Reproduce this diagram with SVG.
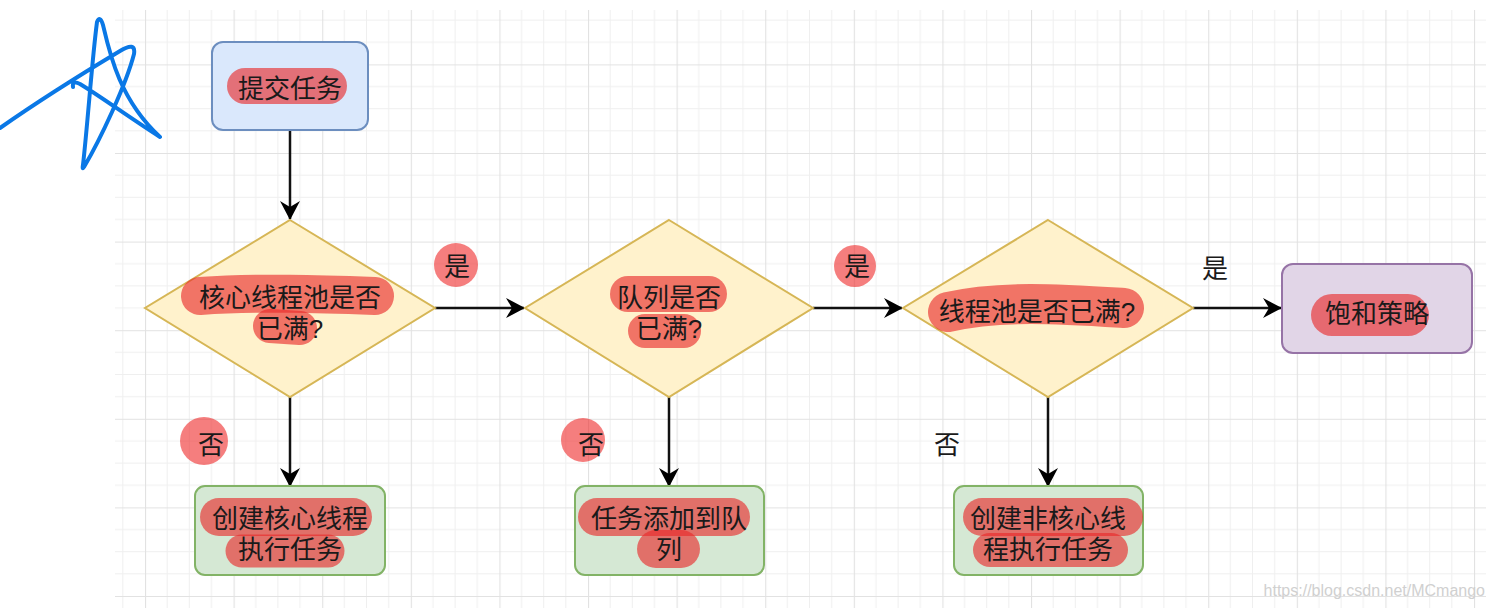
<svg xmlns="http://www.w3.org/2000/svg" width="1486" height="608" viewBox="0 0 1486 608">
<defs>
<pattern id="grid" patternUnits="userSpaceOnUse" x="145" y="153" width="88.6" height="88.6">
<path d="M22.15,0V88.6M44.3,0V88.6M66.45,0V88.6M0,22.15H88.6M0,44.3H88.6M0,66.45H88.6" stroke="#efefef" stroke-width="1" fill="none"/>
<path d="M0.5,0V88.6M0,0.5H88.6" stroke="#e2e2e2" stroke-width="1.2" fill="none"/>
</pattern>
<marker id="arr" viewBox="0 0 19 20" refX="18" refY="10" markerWidth="19" markerHeight="20" markerUnits="userSpaceOnUse" orient="auto">
<path d="M0,0 L19,10 L0,20 L6,10 Z" fill="#000"/>
</marker>
<style>
.t{font-family:"Liberation Sans","Noto Sans CJK SC",sans-serif;font-size:26px;fill:#1a1a1a;text-anchor:middle;dominant-baseline:central}
.hl{stroke:rgba(232,38,38,0.62);stroke-linecap:round;fill:none}
.dot{fill:rgba(238,40,40,0.6)}
.dia{fill:#fff2cc;stroke:#d6b656;stroke-width:2}
.gr{fill:#d5e8d4;stroke:#82b366;stroke-width:2}
.cn{stroke:#111;stroke-width:2.5;fill:none;marker-end:url(#arr)}
</style>
</defs>
<rect width="1486" height="608" fill="#fff"/>
<rect x="115" y="10" width="1371" height="598" fill="url(#grid)"/>

<path d="M0,128 C40,100 85,72 120,51 Q136,41 134,54 C126,85 100,140 84,167 Q82,170 83,165 C88,120 92,60 97,22 Q100,15 103,25 C110,55 120,100 160,137 C130,118 100,96 80,84 Q72,80 73,87" stroke="#0a78e6" stroke-width="4" fill="none" stroke-linecap="round" stroke-linejoin="round"/>

<g id="connectors">
<line class="cn" x1="290" y1="130" x2="290" y2="219"/>
<line class="cn" x1="435" y1="308" x2="524" y2="308"/>
<line class="cn" x1="813" y1="308" x2="902" y2="308"/>
<line class="cn" x1="1193" y1="308" x2="1281" y2="308"/>
<line class="cn" x1="290" y1="397" x2="290" y2="486"/>
<line class="cn" x1="669" y1="397" x2="669" y2="486"/>
<line class="cn" x1="1048" y1="397" x2="1048" y2="486"/>
<circle class="dot" cx="456" cy="265" r="22"/>
<text class="t" x="457" y="267">是</text>
<circle class="dot" cx="855" cy="266" r="21"/>
<text class="t" x="857" y="267">是</text>
<text class="t" x="1215" y="269">是</text>
<circle class="dot" cx="204" cy="441" r="24"/>
<text class="t" x="211" y="445">否</text>
<circle class="dot" cx="583" cy="440" r="22"/>
<text class="t" x="591" y="445">否</text>
<text class="t" x="947" y="445">否</text>
</g>

<g id="n-submit">
<rect x="212" y="42" width="156" height="88" rx="11" fill="#dae8fc" stroke="#6c8ebf" stroke-width="2"/>
<line class="hl" x1="245" y1="86" x2="329" y2="86" stroke-width="36"/>
<text class="t" x="290" y="89">提交任务</text>
</g>

<g id="n-core">
<polygon class="dia" points="290,220 435,308 290,397 145,308"/>
<path class="hl" d="M200,296 C260,292 320,294 375,296" stroke-width="38"/>
<path class="hl" d="M270,326 L300,328" stroke-width="34"/>
<text class="t" x="290" y="298">核心线程池是否</text>
<text class="t" x="290" y="329">已满?</text>
</g>

<g id="n-queue">
<polygon class="dia" points="669,220 813,308 669,397 525,308"/>
<path class="hl" d="M628,294 L709,294" stroke-width="36"/>
<path class="hl" d="M645,331 L684,331" stroke-width="34"/>
<text class="t" x="669" y="298">队列是否</text>
<text class="t" x="669" y="329">已满?</text>
</g>

<g id="n-pool">
<polygon class="dia" points="1048,220 1193,308 1048,397 903,308"/>
<path class="hl" d="M948,312 C1000,300 1060,304 1124,308" stroke-width="40"/>
<text class="t" x="1037" y="312">线程池是否已满?</text>
</g>

<g id="n-reject">
<rect x="1282" y="264" width="190" height="89" rx="11" fill="#e1d5e7" stroke="#9673a6" stroke-width="2"/>
<line class="hl" x1="1332" y1="315" x2="1408" y2="315" stroke-width="42"/>
<text class="t" x="1377" y="314">饱和策略</text>
</g>

<g id="n-create-core">
<rect x="195" y="486" width="190" height="89" rx="10" class="gr"/>
<line class="hl" x1="219" y1="517" x2="353" y2="517" stroke-width="38"/>
<line class="hl" x1="242" y1="551" x2="328" y2="551" stroke-width="33"/>
<text class="t" x="290" y="519">创建核心线程</text>
<text class="t" x="290" y="550">执行任务</text>
</g>

<g id="n-enqueue">
<rect x="575" y="486" width="189" height="89" rx="10" class="gr"/>
<line class="hl" x1="597" y1="517" x2="731" y2="517" stroke-width="38"/>
<path class="hl" d="M656,549 L681,549" stroke-width="38"/>
<text class="t" x="669" y="519">任务添加到队</text>
<text class="t" x="669" y="550">列</text>
</g>

<g id="n-create-noncore">
<rect x="954" y="486" width="189" height="89" rx="10" class="gr"/>
<line class="hl" x1="982" y1="517" x2="1124" y2="517" stroke-width="38"/>
<line class="hl" x1="990" y1="550" x2="1111" y2="550" stroke-width="34"/>
<text class="t" x="1048" y="519">创建非核心线</text>
<text class="t" x="1048" y="550">程执行任务</text>
</g>

<text x="1485" y="596" font-family="Liberation Sans, Arial, sans-serif" font-size="16" fill="#d0d0d0" text-anchor="end">https://blog.csdn.net/MCmango</text>
</svg>
